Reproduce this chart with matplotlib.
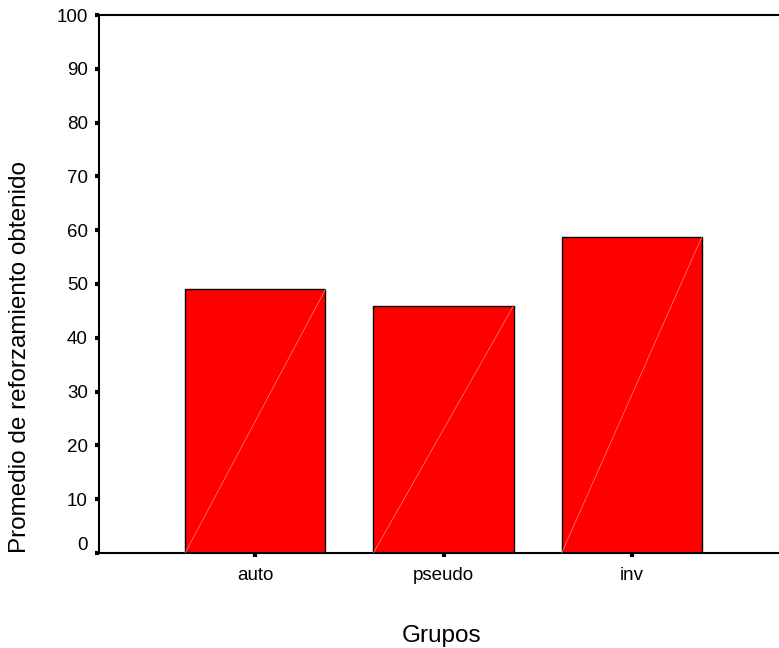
import matplotlib
matplotlib.use("Agg")
from matplotlib import pyplot as plt
from matplotlib import transforms

grupos = ["auto", "pseudo", "inv"]
promedio = [49.0, 46.0, 58.8]
yticks = [0, 10, 20, 30, 40, 50, 60, 70, 80, 90, 100]

plt.rcParams['font.family'] = ['Liberation Sans', 'DejaVu Sans']

W, H = 779, 648
fig = plt.figure(figsize=(W / 100, H / 100), dpi=100)
ax = fig.add_axes([99 / W, 1 - 553 / H, 1 - 99 / W + 0.002, (553 - 15) / H])

x = list(range(len(grupos)))
w = 0.745
ax.bar(x, promedio, width=w, color="#ff0000", edgecolor="black", linewidth=1.0, zorder=2)
# faint diagonal inside each bar
for xi, v in zip(x, promedio):
    ax.plot([xi - w / 2, xi + w / 2], [0, v], color="#ff7070", linewidth=0.6, zorder=3)

ax.set_xlim(-0.83, 2.79)
ax.set_ylim(0, 100)
ax.set_xticks(x)
ax.set_xticklabels(grupos)
ax.set_yticks(yticks)

for s in ["left", "top", "bottom"]:
    ax.spines[s].set_linewidth(1.5)
ax.spines["right"].set_visible(False)

ax.tick_params(axis="y", direction="out", length=3, width=3, labelsize=13.5, pad=5)
ax.tick_params(axis="x", direction="out", length=3, width=3, labelsize=13.5, pad=7)

# SPSS draws the 0 label a little above its tick
lab0 = ax.get_yticklabels()[0]
lab0.set_transform(lab0.get_transform() + transforms.ScaledTranslation(0, 10 / 100, fig.dpi_scale_trans))

fig.text(20 / W, 1 - 357 / H, "Promedio de reforzamiento obtenido", rotation=90,
         ha="center", va="center", fontsize=17.5)
fig.text(442 / W, 1 - 642 / H, "Grupos", ha="center", va="baseline", fontsize=17.5)

fig.savefig("out.png", dpi=100)
